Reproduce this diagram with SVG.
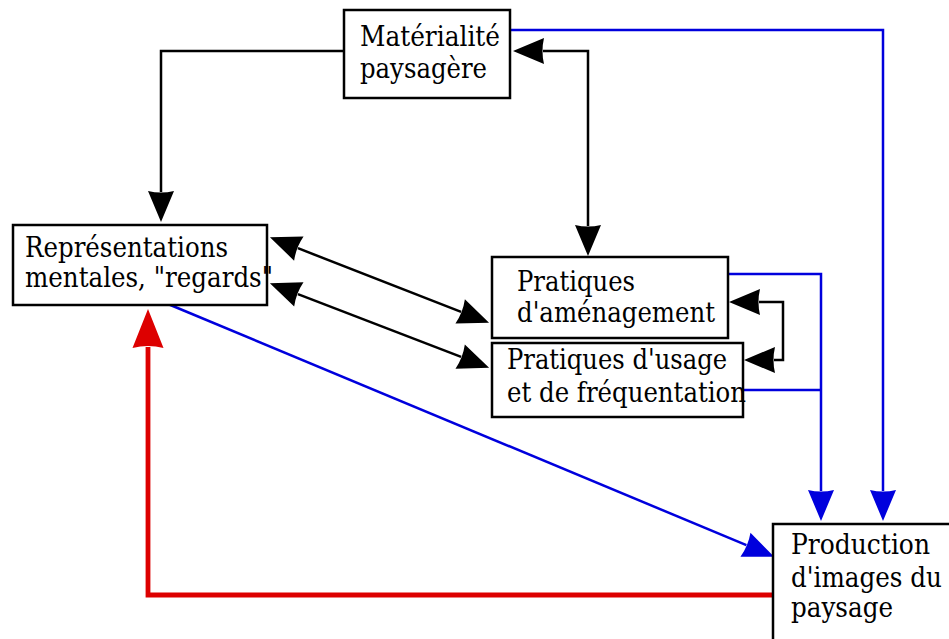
<svg xmlns="http://www.w3.org/2000/svg" width="949" height="639" viewBox="0 0 949 639">
<style>
.box{fill:#fff;stroke:#000;stroke-width:2.5}
.t{font-family:'DejaVu Serif','Liberation Serif','Times New Roman',serif;font-size:28px;fill:#000}
.k{fill:none;stroke:#000;stroke-width:2.5}
.b{fill:none;stroke:#0000dd;stroke-width:2.5}
.r{fill:none;stroke:#dd0000;stroke-width:4.8}
</style>
<defs>
<marker id="ak" markerUnits="userSpaceOnUse" viewBox="-2 -16 36 32" refX="1" refY="0" markerWidth="36" markerHeight="32" orient="auto-start-reverse" overflow="visible">
<path d="M31,0 L0,-13 Q3,0 0,13 Z" fill="#000"/>
</marker>
<marker id="ab" markerUnits="userSpaceOnUse" viewBox="-2 -16 36 32" refX="1" refY="0" markerWidth="36" markerHeight="32" orient="auto" overflow="visible">
<path d="M31,0 L0,-13 Q3,0 0,13 Z" fill="#0000dd"/>
</marker>
<marker id="ar" markerUnits="userSpaceOnUse" viewBox="-2 -18 44 36" refX="1" refY="0" markerWidth="44" markerHeight="36" orient="auto" overflow="visible">
<path d="M39,0 L0,-15.5 Q4,0 0,15.5 Z" fill="#dd0000"/>
</marker>
</defs>
<g id="connectors">
<path class="k" d="M344,51 H161 V192" marker-end="url(#ak)"/>
<path class="k" d="M543,51 H588 V226" marker-start="url(#ak)" marker-end="url(#ak)"/>
<path class="k" d="M297.9,248.2 L461.1,311.8" marker-start="url(#ak)" marker-end="url(#ak)"/>
<path class="k" d="M297.9,294.1 L461.1,356.9" marker-start="url(#ak)" marker-end="url(#ak)"/>
<path class="k" d="M759,302 H783 V360 H774" marker-start="url(#ak)" marker-end="url(#ak)"/>
<path class="b" d="M510,30 H883 V491" marker-end="url(#ab)"/>
<path class="b" d="M728,274 H821 V491" marker-end="url(#ab)"/>
<path class="b" d="M743,390 H821"/>
<path class="b" d="M168,304 L746.4,545.1" marker-end="url(#ab)"/>
<path class="r" d="M773,595 H148 V347" marker-end="url(#ar)"/>
</g>
<g id="materialite">
<rect class="box" x="344" y="10" width="166" height="88"/>
<text class="t" x="360" y="46" textLength="140" lengthAdjust="spacingAndGlyphs">Matérialité</text>
<text class="t" x="360" y="78" textLength="127" lengthAdjust="spacingAndGlyphs">paysagère</text>
</g>
<g id="representations">
<rect class="box" x="13" y="225" width="254" height="80"/>
<text class="t" x="25" y="257" textLength="203" lengthAdjust="spacingAndGlyphs">Représentations</text>
<text class="t" x="25" y="287" textLength="248" lengthAdjust="spacingAndGlyphs">mentales, "regards"</text>
</g>
<g id="amenagement">
<rect class="box" x="492" y="257" width="236" height="81"/>
<text class="t" x="517" y="291" textLength="118" lengthAdjust="spacingAndGlyphs">Pratiques</text>
<text class="t" x="517" y="322" textLength="198" lengthAdjust="spacingAndGlyphs">d'aménagement</text>
</g>
<g id="usage">
<rect class="box" x="492" y="343" width="251" height="74"/>
<text class="t" x="507" y="369" textLength="220" lengthAdjust="spacingAndGlyphs">Pratiques d'usage</text>
<text class="t" x="507" y="402" textLength="239" lengthAdjust="spacingAndGlyphs">et de fréquentation</text>
</g>
<g id="production">
<rect class="box" x="773" y="524" width="200" height="130"/>
<text class="t" x="791" y="554" textLength="139" lengthAdjust="spacingAndGlyphs">Production</text>
<text class="t" x="791" y="587" textLength="151" lengthAdjust="spacingAndGlyphs">d'images du</text>
<text class="t" x="791" y="617" textLength="102" lengthAdjust="spacingAndGlyphs">paysage</text>
</g>
</svg>
